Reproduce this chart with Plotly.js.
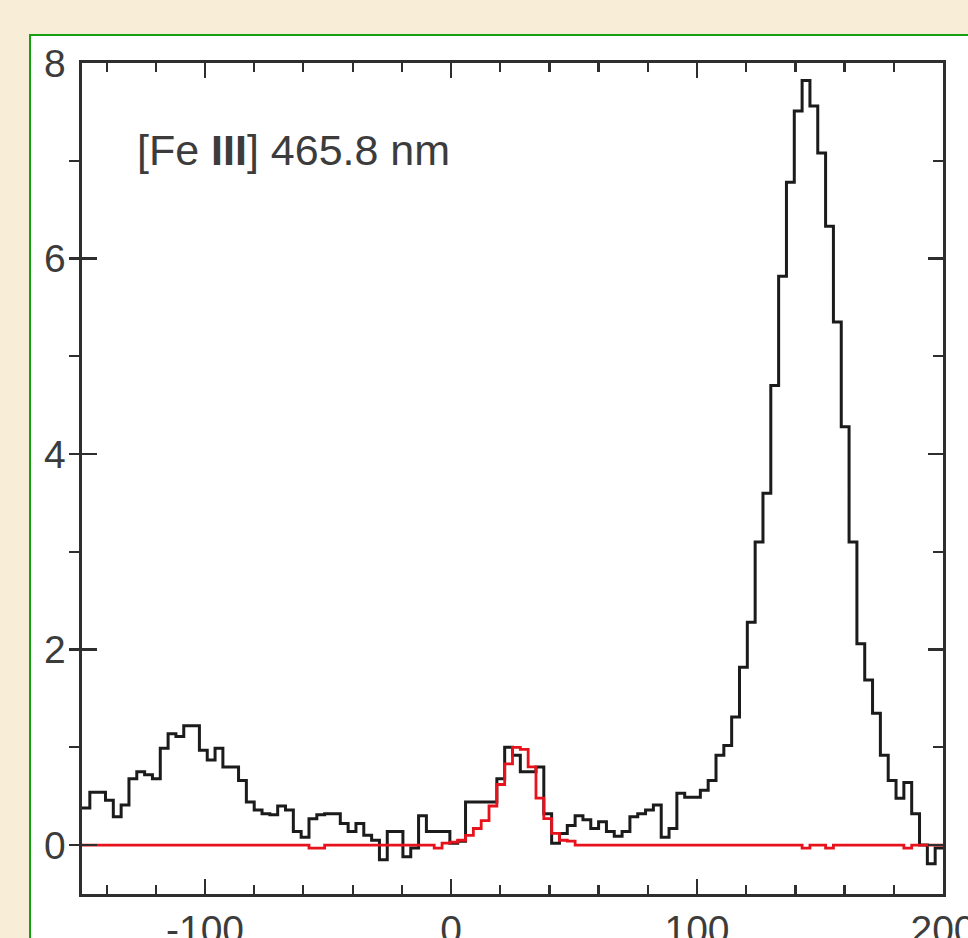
<!DOCTYPE html>
<html>
<head>
<meta charset="utf-8">
<script src="https://cdn.plot.ly/plotly-3.0.1.min.js"></script>
<style>
  html, body { margin: 0; padding: 0; background: #f8eed7; width: 968px; height: 938px; overflow: hidden; }
  #panel { position: absolute; left: 29px; top: 34px; width: 960px; height: 920px; background: #ffffff; border: 2px solid #13a013; box-sizing: border-box; }
  #chart { position: absolute; left: 0; top: 0; width: 968px; height: 938px; }
</style>
</head>
<body>
<div id="panel"></div>
<div id="chart"></div>
<script>
// Velocity binning (km/s)
const velStart = -150;
const binWidth = 350 / 110;

// Observed [Fe III] 465.8 nm profile (black histogram)
const observed = [
  0.38, 0.54, 0.54, 0.46, 0.29, 0.41, 0.68, 0.75, 0.72, 0.68,
  0.99, 1.14, 1.11, 1.22, 1.22, 0.97, 0.87, 0.99, 0.80, 0.80,
  0.66, 0.44, 0.36, 0.32, 0.31, 0.40, 0.36, 0.14, 0.08, 0.27,
  0.31, 0.32, 0.32, 0.22, 0.14, 0.22, 0.10, 0.05, -0.15, 0.14,
  0.14, -0.12, -0.03, 0.30, 0.14, 0.14, 0.14, 0.02, 0.04, 0.44,
  0.44, 0.44, 0.44, 0.68, 1.00, 0.92, 0.75, 0.75, 0.80, 0.32,
  0.02, 0.12, 0.20, 0.30, 0.26, 0.17, 0.24, 0.14, 0.09, 0.14,
  0.29, 0.32, 0.36, 0.41, 0.08, 0.17, 0.53, 0.49, 0.49, 0.56,
  0.66, 0.92, 1.02, 1.31, 1.82, 2.28, 3.10, 3.60, 4.70, 5.82,
  6.78, 7.51, 7.82, 7.56, 7.08, 6.33, 5.35, 4.28, 3.10, 2.06,
  1.69, 1.35, 0.92, 0.66, 0.48, 0.64, 0.32, 0.00, -0.19, -0.03
];

// Model / comparison profile (red histogram)
const model = [
  0, 0, 0, 0, 0, 0, 0, 0, 0, 0,
  0, 0, 0, 0, 0, 0, 0, 0, 0, 0,
  0, 0, 0, 0, 0, 0, 0, 0, 0, -0.03,
  -0.03, 0, 0, 0, 0, 0, 0, 0, 0, 0,
  0, 0, 0, 0, 0, -0.03, 0.02, 0.03, 0.05, 0.10,
  0.17, 0.25, 0.40, 0.62, 0.83, 1.00, 0.98, 0.80, 0.48, 0.27,
  0.12, 0.05, 0.04, 0, 0, 0, 0, 0, 0, 0,
  0, 0, 0, 0, 0, 0, 0, 0, 0, 0,
  0, 0, 0, 0, 0, 0, 0, 0, 0, 0,
  0, 0, -0.03, 0, 0, -0.03, 0, 0, 0, 0,
  0, 0, 0, 0, 0, -0.03, 0, 0, 0, 0
];

const xTickVals = [-100, 0, 100, 200];
const xTickText = ['-100', '0', '100', '200'];
const yTickVals = [0, 2, 4, 6, 8];
const yTickText = ['0', '2', '4', '6', '8'];
const labelText = '[Fe <b>III</b>] 465.8 nm';

// Step histograms: left bin edges plus closing right edge
function stepXY(vals) {
  const xs = [], ys = [];
  for (let i = 0; i < vals.length; i++) {
    xs.push(velStart + binWidth * i);
    ys.push(vals[i]);
  }
  xs.push(velStart + binWidth * vals.length);
  ys.push(vals[vals.length - 1]);
  return {xs, ys};
}

const obs = stepXY(observed);
const mod = stepXY(model);

const axisColor = '#2e2e2e';
const tickFont = {family: 'Liberation Sans, Arial, sans-serif', size: 39, color: '#3c3c3c'};

const traces = [
  {x: obs.xs, y: obs.ys, type: 'scatter', mode: 'lines',
   line: {shape: 'hv', color: '#1b1b1b', width: 3}, hoverinfo: 'skip', showlegend: false},
  {x: mod.xs, y: mod.ys, type: 'scatter', mode: 'lines', xaxis: 'x2', yaxis: 'y2',
   line: {shape: 'hv', color: '#e8121c', width: 2.8}, hoverinfo: 'skip', showlegend: false}
];

const xBase = {
  range: [-150, 200], showgrid: false, zeroline: false,
  showline: true, linecolor: axisColor, linewidth: 2.6,
  ticks: 'inside', ticklen: 15, tickwidth: 2.2, tickcolor: axisColor,
  tickvals: xTickVals, ticktext: xTickText,
  minor: {ticks: 'inside', dtick: 20, tick0: 0, ticklen: 9, tickwidth: 2.2, tickcolor: axisColor, showgrid: false}
};
const yBase = {
  range: [-0.5, 8], showgrid: false, zeroline: false,
  showline: true, linecolor: axisColor, linewidth: 2.6,
  ticks: 'inside', ticklen: 15, tickwidth: 2.2, tickcolor: axisColor,
  tickvals: yTickVals, ticktext: yTickText
};

const layout = {
  width: 968, height: 938,
  margin: {l: 82, r: 25, t: 63, b: 44},
  paper_bgcolor: 'rgba(0,0,0,0)',
  plot_bgcolor: '#ffffff',
  showlegend: false,
  xaxis: Object.assign({}, xBase, {
    side: 'bottom', showticklabels: true, tickfont: tickFont,
    ticklabeloverflow: 'allow', ticklabelstandoff: 0
  }),
  xaxis2: Object.assign({}, xBase, {
    overlaying: 'x', side: 'top', anchor: 'y2', showticklabels: false
  }),
  yaxis: Object.assign({}, yBase, {
    side: 'left', showticklabels: true, tickfont: tickFont,
    ticklabeloverflow: 'allow', ticklabelstandoff: 6,
    minor: {ticks: 'outside', dtick: 1, tick0: 0, ticklen: 10, tickwidth: 2.2, tickcolor: axisColor, showgrid: false}
  }),
  yaxis2: Object.assign({}, yBase, {
    overlaying: 'y', side: 'right', anchor: 'x2', showticklabels: false,
    minor: {ticks: 'inside', dtick: 1, tick0: 0, ticklen: 10, tickwidth: 2.2, tickcolor: axisColor, showgrid: false}
  }),
  annotations: [{
    text: labelText, xref: 'paper', yref: 'paper',
    x: 0.0620, y: 0.895, xanchor: 'left', yanchor: 'middle',
    showarrow: false,
    font: {family: 'Liberation Sans, Arial, sans-serif', size: 43, color: '#3c3c3c'}
  }]
};

Plotly.newPlot('chart', traces, layout, {staticPlot: true, displayModeBar: false});
</script>
</body>
</html>
